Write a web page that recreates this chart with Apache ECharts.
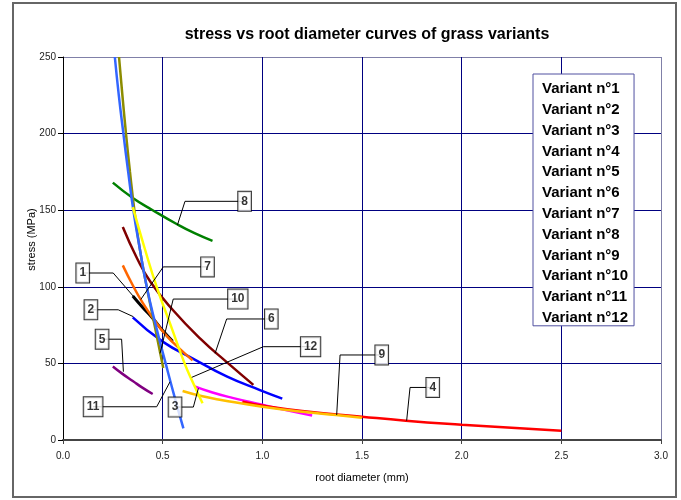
<!DOCTYPE html>
<html>
<head>
<meta charset="utf-8">
<script src="https://cdn.jsdelivr.net/npm/echarts@6/dist/echarts.min.js"></script>
<style>html,body{margin:0;padding:0;background:#fff}#c{width:681px;height:500px}</style>
</head>
<body>
<div id="c"></div>
<script>
// ---- data ----
const variantNames = ['Variant n°1','Variant n°2','Variant n°3','Variant n°4','Variant n°5','Variant n°6',
  'Variant n°7','Variant n°8','Variant n°9','Variant n°10','Variant n°11','Variant n°12'];
const v1 = [[0.35,94],[0.40,86.5],[0.45,79.5],[0.50,71.5],[0.55,64.5]];
const v2 = [[0.35,80],[0.50,64.2],[0.654,53],[0.821,41.5],[0.988,32.6],[1.10,27]];
const v3 = [[0.66,35],[0.75,31],[0.85,27.5],[1.0,23],[1.1,20],[1.25,16]];
const v4 = [[0.9,25],[1.0,22.5],[1.2,19],[1.5,15.2],[1.72,12.6],[2.0,10],[2.25,8],[2.5,6]];
const v5 = [[0.25,48],[0.30,43],[0.35,38.5],[0.40,34],[0.45,30]];
const v6 = [[0.30,139],[0.37,119],[0.44,103],[0.55,85],[0.69,66],[0.82,51],[0.955,36]];
const v7 = [[0.30,114],[0.35,101],[0.40,89.5],[0.46,78],[0.52,68],[0.59,59],[0.65,52]];
const v8 = [[0.25,168],[0.35,158],[0.45,150],[0.57,141],[0.66,135],[0.75,130]];
const v9 = [[0.60,32],[0.70,28.5],[0.80,26],[1.0,21.7],[1.2,18.5],[1.37,16.3],[1.5,14.6]];
const v10 = [[0.281,250],[0.298,225],[0.316,200],[0.336,175],[0.358,150],[0.385,125],[0.42,100],[0.46,74.5],[0.503,47]];
const v11 = [[0.26,250],[0.28,225],[0.303,200],[0.327,175],[0.353,150],[0.385,125],[0.42,100],[0.465,75],[0.515,50],[0.56,28],[0.604,7.6]];
const v12 = [[0.35,152],[0.41,125],[0.47,100],[0.54,75],[0.61,50],[0.65,38],[0.70,24]];
const xTicks = [0, 0.5, 1.0, 1.5, 2.0, 2.5, 3.0];
const yTicks = [0, 50, 100, 150, 200, 250];

// annotation labels: [curve point, elbow, box centre] in data units
const calloutText = ['1','2','3','4','5','6','7','8','9','10','11','12'];
const calloutLines = [
  [[0.355,93.5],[0.252,109],[0.099,109]],
  [[0.353,80.5],[0.277,85],[0.14,85]],
  [[0.679,33.7],[0.654,21.5],[0.562,21.5]],
  [[1.724,12.6],[1.741,34.3],[1.855,34.3]],
  [[0.303,44.6],[0.294,65.8],[0.196,65.8]],
  [[0.763,56.6],[0.821,79],[1.045,79]],
  [[0.39,91.7],[0.503,113],[0.725,113]],
  [[0.574,140.3],[0.612,155.8],[0.911,155.8]],
  [[1.373,16.3],[1.39,55.5],[1.599,55.5]],
  [[0.487,56.6],[0.553,92],[0.877,92]],
  [[0.537,38],[0.47,21.7],[0.151,21.7]],
  [[0.646,40.9],[1.005,60.9],[1.242,60.9]]
];

// ---- styles ----
const colors = ['#000000','#0000FF','#FF00FF','#FF0000','#800080','#800000',
  '#FF6600','#008000','#FFC000','#8C8C00','#3366FF','#FFFF00'];
const FONT = 'Liberation Sans, Arial, sans-serif';
const seriesData = [v1,v2,v3,v4,v5,v6,v7,v8,v9,v10,v11,v12];

const series = [];
seriesData.forEach((d, i) => {
  series.push({
    name: variantNames[i], type: 'line', data: d, smooth: 0.5,
    showSymbol: false, symbol: 'none', silent: true,
    lineStyle: {color: colors[i], width: i === 0 ? 3 : 2.5},
    itemStyle: {color: colors[i]}, z: 3
  });
});
calloutLines.forEach((pts, i) => {
  series.push({
    name: 'leader' + i, type: 'line', data: pts, symbol: 'none', silent: true,
    lineStyle: {color: '#000', width: 1}, z: 4
  });
});
series.push({
  name: 'callouts', type: 'scatter', silent: true, z: 6,
  data: calloutLines.map((pts, i) => [pts[2][0], pts[2][1], calloutText[i]]),
  symbolSize: 1, itemStyle: {color: 'transparent'},
  label: {
    show: true, position: 'inside', formatter: p => p.value[2],
    fontFamily: FONT, fontWeight: 'bold', fontSize: 12, color: '#000',
    backgroundColor: '#fff', borderColor: '#000', borderWidth: 1,
    padding: [3, 3, 2, 3], lineHeight: 14
  }
});

const chart = echarts.init(document.getElementById('c'), null, {renderer: 'canvas'});
chart.setOption({
  animation: false,
  backgroundColor: '#fff',
  title: {
    text: 'stress vs root diameter curves of grass variants',
    left: 362, top: 22, textAlign: 'center',
    textStyle: {fontFamily: FONT, fontWeight: 'bold', fontSize: 16, color: '#000'}
  },
  graphic: [{
    type: 'rect', shape: {x: 13, y: 3, width: 663, height: 494},
    style: {fill: 'none', stroke: '#666', lineWidth: 2}, silent: true, z: 100
  }],
  legend: {
    data: variantNames, orient: 'vertical', left: 533, top: 74,
    icon: 'rect', itemWidth: 0, itemHeight: 0, itemGap: 4.8,
    itemStyle: {opacity: 0}, lineStyle: {opacity: 0},
    selectedMode: false,
    padding: [7, 6, 0, 4],
    backgroundColor: '#fff', borderColor: '#5050a0', borderWidth: 1,
    textStyle: {fontFamily: FONT, fontWeight: 'bold', fontSize: 15, lineHeight: 16, color: '#000'}
  },
  grid: {left: 63, right: 20, top: 57, bottom: 60},
  xAxis: {
    type: 'value', min: xTicks[0], max: xTicks[xTicks.length - 1], interval: 0.5,
    name: 'root diameter (mm)', nameLocation: 'middle', nameGap: 32,
    nameTextStyle: {fontFamily: FONT, fontSize: 11, color: '#000'},
    axisLine: {show: true, lineStyle: {color: '#444', width: 2}},
    axisTick: {show: true, length: 4, lineStyle: {color: '#444'}},
    axisLabel: {margin: 11, fontFamily: FONT, fontSize: 10, color: '#222', formatter: v => v.toFixed(1)},
    splitLine: {show: true, lineStyle: {color: ['#000080','#000080','#000080','#000080','#000080','#000080','#8080a8'], width: 1}}
  },
  yAxis: {
    type: 'value', min: yTicks[0], max: yTicks[yTicks.length - 1], interval: 50,
    name: 'stress (MPa)', nameLocation: 'middle', nameGap: 26, nameMoveOverlap: false,
    nameTextStyle: {fontFamily: FONT, fontSize: 11, color: '#000', padding: [0, 0, 0, 18]},
    axisLine: {show: true, lineStyle: {color: '#000', width: 1}},
    axisTick: {show: true, length: 5, lineStyle: {color: '#000'}},
    axisLabel: {margin: 7, fontFamily: FONT, fontSize: 10, color: '#222'},
    splitLine: {show: true, lineStyle: {color: ['#000080','#000080','#000080','#000080','#000080','#8080a8'], width: 1}}
  },
  series: series
});
</script>
</body>
</html>
